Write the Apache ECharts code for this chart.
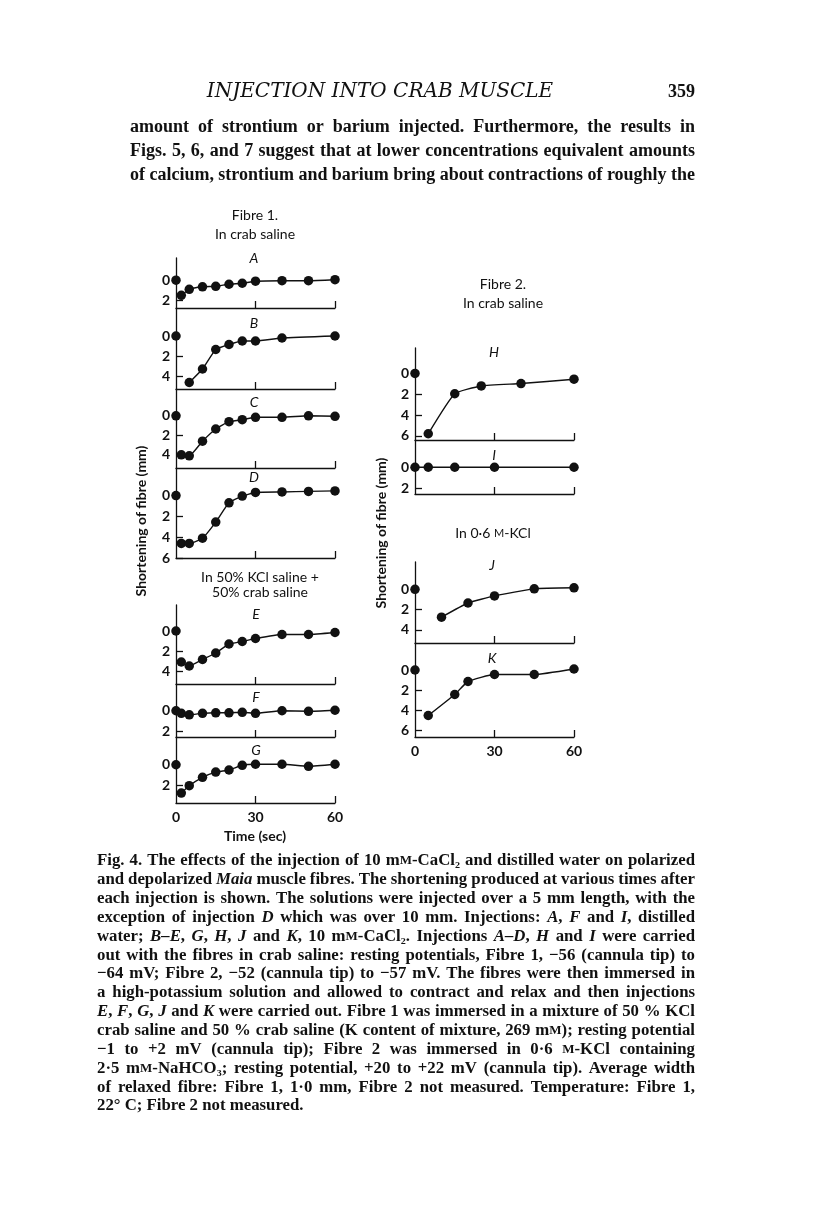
<!DOCTYPE html>
<html>
<head>
<meta charset="utf-8">
<script src="https://cdn.jsdelivr.net/npm/echarts@6/dist/echarts.min.js"></script>
<style>
html, body { margin: 0; padding: 0; background: #fff; }
#mychart { width: 816px; height: 1221px; }
</style>
</head>
<body>
<div id="mychart"></div>
<script>
// times (sec) and shortening (mm)
var timesLeft = [0, 2, 5, 10, 15, 20, 25, 30, 40, 50, 60]
var shortA = [0, 1.5, 0.9, 0.65, 0.6, 0.4, 0.3, 0.1, 0.05, 0.05, -0.05]
var timesB = [0, 5, 10, 15, 20, 25, 30, 40, 60]
var shortB = [0, 4.65, 3.3, 1.35, 0.85, 0.5, 0.5, 0.2, 0]
var shortC = [0, 4.0, 4.1, 2.6, 1.35, 0.6, 0.4, 0.15, 0.15, 0.0, 0.05]
var shortD = [0, 4.6, 4.6, 4.1, 2.55, 0.7, 0.05, -0.3, -0.35, -0.4, -0.45]
var shortE = [0, 3.1, 3.5, 2.85, 2.2, 1.3, 1.05, 0.75, 0.35, 0.35, 0.15]
var shortF = [0, 0.25, 0.4, 0.25, 0.2, 0.2, 0.15, 0.25, 0, 0.05, -0.05]
var shortG = [0, 2.7, 2.0, 1.2, 0.7, 0.5, 0.05, -0.05, -0.05, 0.15, -0.05]
var timesH = [0, 5, 15, 25, 40, 60]
var shortH = [0, 5.8, 1.95, 1.2, 0.97, 0.55]
var timesI = [0, 5, 15, 30, 60]
var shortI = [0, 0, 0, 0, 0]
var timesJ = [0, 10, 20, 30, 45, 60]
var shortJ = [0, 2.75, 1.35, 0.65, -0.05, -0.15]
var timesK = [0, 5, 15, 20, 30, 45, 60]
var shortK = [0, 4.55, 2.45, 1.15, 0.45, 0.45, -0.1]

var xTicks = [0, 30, 60]

var panels = [
    { name: 'A', t: timesLeft, v: shortA, joined: false, yLabels: [0, 2] },
    { name: 'B', t: timesB, v: shortB, joined: false, yLabels: [0, 2, 4] },
    { name: 'C', t: timesLeft, v: shortC, joined: false, yLabels: [0, 2, 4] },
    { name: 'D', t: timesLeft, v: shortD, joined: false, yLabels: [0, 2, 4, 6] },
    { name: 'E', t: timesLeft, v: shortE, joined: false, yLabels: [0, 2, 4] },
    { name: 'F', t: timesLeft, v: shortF, joined: true, yLabels: [0, 2] },
    { name: 'G', t: timesLeft, v: shortG, joined: false, yLabels: [0, 2], xLabels: true },
    { name: 'H', t: timesH, v: shortH, joined: false, yLabels: [0, 2, 4, 6] },
    { name: 'I', t: timesI, v: shortI, joined: true, yLabels: [0, 2] },
    { name: 'J', t: timesJ, v: shortJ, joined: false, yLabels: [0, 2, 4] },
    { name: 'K', t: timesK, v: shortK, joined: false, yLabels: [0, 2, 4, 6], xLabels: true },
]

// grid boxes (px) and y ranges for each panel
var boxes = {
    A: { left: 176, top: 258, h: 50, ymin: -2.2, ymax: 2.75 },
    B: { left: 176, top: 308, h: 81, ymin: -2.8, ymax: 5.3 },
    C: { left: 176, top: 389, h: 79, ymin: -2.75, ymax: 5.35 },
    D: { left: 176, top: 468, h: 90, ymin: -2.65, ymax: 6 },
    E: { left: 176, top: 605, h: 79, ymin: -2.6, ymax: 5.3 },
    F: { left: 176, top: 684, h: 53, ymin: -2.6, ymax: 2.55 },
    G: { left: 176, top: 737, h: 66, ymin: -2.65, ymax: 3.65 },
    H: { left: 415, top: 348, h: 92, ymin: -2.45, ymax: 6.4 },
    I: { left: 415, top: 440, h: 54, ymin: -2.6, ymax: 2.55 },
    J: { left: 415, top: 562, h: 81, ymin: -2.7, ymax: 5.3 },
    K: { left: 415, top: 643, h: 94, ymin: -2.7, ymax: 6.7 },
}

var letterPos = {
    A: [254, 258], B: [254, 323], C: [254, 402], D: [254, 477], E: [256, 614], F: [256, 697], G: [256, 750],
    H: [494, 352], I: [494, 455], J: [492, 565], K: [492, 658],
}

var sans = 'Lato, "Open Sans", sans-serif'
var serif = '"Liberation Serif", "DejaVu Serif", serif'

var bodyLines = [
    'amount of strontium or barium injected. Furthermore, the results in',
    'Figs. 5, 6, and 7 suggest that at lower concentrations equivalent amounts',
    'of calcium, strontium and barium bring about contractions of roughly the',
]

var captionLines = [
    'Fig. 4. The effects of the injection of 10 m{sc|M}-CaCl₂ and distilled water on polarized',
    'and depolarized {i|Maia} muscle fibres. The shortening produced at various times after',
    'each injection is shown. The solutions were injected over a 5 mm length, with the',
    'exception of injection {i|D} which was over 10 mm. Injections: {i|A}, {i|F} and {i|I}, distilled',
    'water; {i|B–E}, {i|G}, {i|H}, {i|J} and {i|K}, 10 m{sc|M}-CaCl₂. Injections {i|A–D}, {i|H} and {i|I} were carried',
    'out with the fibres in crab saline: resting potentials, Fibre 1, −56 (cannula tip) to',
    '−64 mV; Fibre 2, −52 (cannula tip) to −57 mV. The fibres were then immersed in',
    'a high-potassium solution and allowed to contract and relax and then injections',
    '{i|E}, {i|F}, {i|G}, {i|J} and {i|K} were carried out. Fibre 1 was immersed in a mixture of 50 % KCl',
    'crab saline and 50 % crab saline (K content of mixture, 269 m{sc|M}); resting potential',
    '−1 to +2 mV (cannula tip); Fibre 2 was immersed in 0·6 {sc|M}-KCl containing',
    '2·5 m{sc|M}-NaHCO₃; resting potential, +20 to +22 mV (cannula tip). Average width',
    'of relaxed fibre: Fibre 1, 1·0 mm, Fibre 2 not measured. Temperature: Fibre 1,',
    '22° C; Fibre 2 not measured.',
]

var option = {
    backgroundColor: '#fff',
    animation: false,
    grid: [],
    xAxis: [],
    yAxis: [],
    series: [],
    graphic: [],
}

function addPanel(p, i) {
    var b = boxes[p.name]
    option.grid.push({ left: b.left, top: b.top, width: 159, height: b.h })
    option.xAxis.push({
        gridIndex: i,
        type: 'value',
        min: 0,
        max: 60,
        splitLine: { show: false },
        axisLine: { show: true, onZero: false, lineStyle: { color: '#111', width: 1.3 } },
        axisTick: { show: true, inside: true, length: 7, customValues: [30, 60], lineStyle: { color: '#111', width: 1.3 } },
        axisLabel: {
            show: !!p.xLabels,
            customValues: xTicks,
            margin: 7,
            color: '#111',
            fontFamily: sans,
            fontSize: 14,
            fontWeight: 'bold',
        },
    })
    var ticks = p.yLabels.filter(function (v) { return v > 0 })
    option.yAxis.push({
        gridIndex: i,
        type: 'value',
        inverse: true,
        min: b.ymin,
        max: b.ymax,
        splitLine: { show: false },
        axisLine: { show: true, onZero: false, lineStyle: { color: '#111', width: 1.3 } },
        axisTick: { show: true, inside: true, length: 7, customValues: ticks, lineStyle: { color: '#111', width: 1.3 } },
        axisLabel: {
            customValues: p.yLabels,
            margin: 6,
            color: '#111',
            fontFamily: sans,
            fontSize: 14,
            fontWeight: 'bold',
        },
    })
    var pts = []
    for (var k = 0; k < p.t.length; k++) {
        pts.push([p.t[k], p.v[k]])
    }
    var lineData = p.joined ? pts : pts.slice(1)
    if (!p.joined) {
        option.series.push({
            type: 'scatter',
            xAxisIndex: i,
            yAxisIndex: i,
            data: [pts[0]],
            symbolSize: 9.5,
            itemStyle: { color: '#111', opacity: 1 },
        })
    }
    option.series.push({
        type: 'line',
        xAxisIndex: i,
        yAxisIndex: i,
        data: lineData,
        symbol: 'circle',
        symbolSize: 9.5,
        smooth: 0.15,
        lineStyle: { color: '#111', width: 1.4 },
        itemStyle: { color: '#111', opacity: 1 },
    })
    var lp = letterPos[p.name]
    option.graphic.push({
        type: 'text', x: lp[0], y: lp[1],
        style: { text: p.name, fontFamily: sans, fontStyle: 'italic', fontSize: 14, fill: '#111', align: 'center', verticalAlign: 'middle' },
    })
}

function addText(txt, x, y, opts) {
    var st = { text: txt, fontFamily: sans, fontSize: 14, fill: '#111', align: 'center', verticalAlign: 'middle' }
    for (var key in opts) {
        st[key] = opts[key]
    }
    option.graphic.push({ type: 'text', x: x, y: y, style: st })
}

// justify a line of rich text between x0 and x1 by widening the spaces
var ctx = document.createElement('canvas').getContext('2d')

function wordWidth(word, fonts) {
    var w = 0
    var re = /\{(\w+)\|([^}]*)\}|([^{]+)/g
    var m
    while ((m = re.exec(word)) !== null) {
        ctx.font = m[1] ? fonts[m[1]] : fonts.base
        w += ctx.measureText(m[1] ? m[2] : m[3]).width
    }
    return w
}

function justified(line, width, fonts) {
    var words = line.split(' ')
    var total = 0
    words.forEach(function (w) { total += wordWidth(w, fonts) })
    var gap = (width - total) / (words.length - 1)
    return { text: words.join('{sp| }'), gap: gap }
}

function addParagraph(lines, x0, x1, y0, dy, size, justifyLast) {
    var fonts = {
        base: 'bold ' + size + 'px "Liberation Serif"',
        i: 'italic bold ' + size + 'px "Liberation Serif"',
        sc: 'bold ' + Math.round(size * 0.75) + 'px "Liberation Serif"',
    }
    lines.forEach(function (s, k) {
        var rich = {
            i: { fontFamily: serif, fontSize: size, fontWeight: 'bold', fontStyle: 'italic', fill: '#111' },
            sc: { fontFamily: serif, fontSize: Math.round(size * 0.75), fontWeight: 'bold', fill: '#111' },
        }
        var txt = s
        if (k < lines.length - 1 || justifyLast) {
            var j = justified(s, x1 - x0, fonts)
            txt = j.text
            rich.sp = { width: j.gap, fontSize: size }
        }
        addText(txt, x0, y0 + k * dy, { fontFamily: serif, fontSize: size, fontWeight: 'bold', align: 'left', rich: rich })
    })
}

panels.forEach(addPanel)

addText('Fibre 1.', 255, 215)
addText('In crab saline', 255, 234)
addText('In 50% KCl saline +', 260, 577)
addText('50% crab saline', 260, 592)
addText('Fibre 2.', 503, 284)
addText('In crab saline', 503, 303)
addText('In 0·6 {sc|M}-KCl', 493, 533, { rich: { sc: { fontFamily: sans, fontSize: 11, fill: '#111' } } })
addText('Time (sec)', 255, 836, { fontWeight: 'bold' })

option.graphic.push({
    type: 'text', x: 141, y: 521, rotation: Math.PI / 2,
    style: { text: 'Shortening of fibre (mm)', fontFamily: sans, fontSize: 14, fontWeight: 'bold', fill: '#111', align: 'center', verticalAlign: 'middle' },
})
option.graphic.push({
    type: 'text', x: 381, y: 533, rotation: Math.PI / 2,
    style: { text: 'Shortening of fibre (mm)', fontFamily: sans, fontSize: 14, fontWeight: 'bold', fill: '#111', align: 'center', verticalAlign: 'middle' },
})

// page header and text
addText('INJECTION INTO CRAB MUSCLE', 380, 92, { fontFamily: '"DejaVu Serif", serif', fontStyle: 'italic', fontSize: 20 })
addText('359', 695, 92, { fontFamily: serif, fontSize: 18, fontWeight: 'bold', align: 'right' })
addParagraph(bodyLines, 130, 695, 127, 24, 18, true)
addParagraph(captionLines, 97, 695, 861, 18.85, 16.8, false)

var myChart = echarts.init(document.getElementById('mychart'))
myChart.setOption(option)
</script>
</body>
</html>
